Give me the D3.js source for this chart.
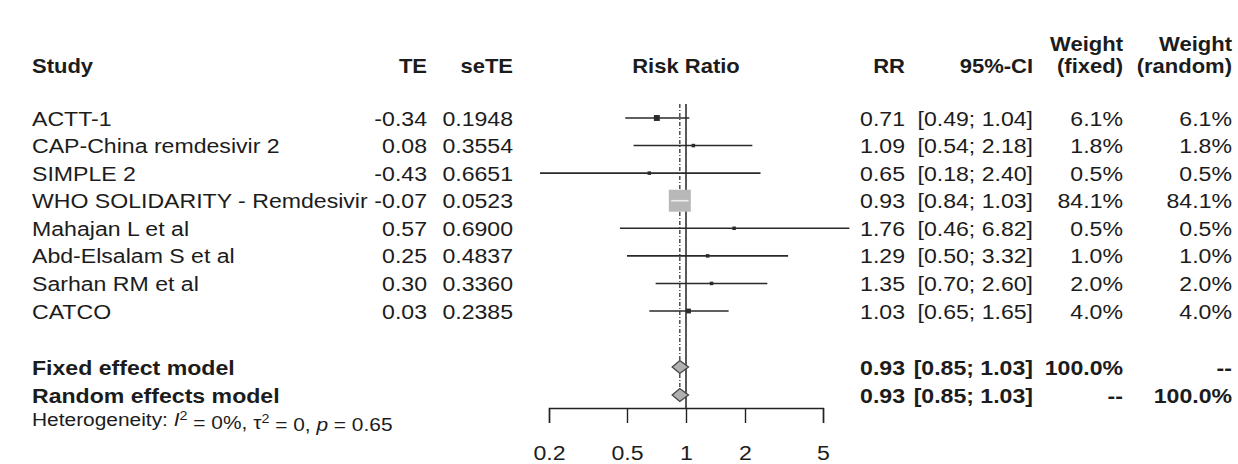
<!DOCTYPE html>
<html>
<head>
<meta charset="utf-8">
<script src="https://cdn.jsdelivr.net/npm/d3@7"></script>
<style>
  body { margin: 0; background: #fff; }
  svg { display: block; font-family: "Liberation Sans", Arial, sans-serif; }
  text { fill: #1c1c1c; }
  .bold { font-weight: bold; }
</style>
</head>
<body>
<svg id="chart" width="1238" height="464"></svg>
<script>
// study level data
const studies = ['ACTT-1', 'CAP-China remdesivir 2', 'SIMPLE 2', 'WHO SOLIDARITY - Remdesivir',
  'Mahajan L et al', 'Abd-Elsalam S et al', 'Sarhan RM et al', 'CATCO'];
const te    = ['-0.34', '0.08', '-0.43', '-0.07', '0.57', '0.25', '0.30', '0.03'];
const seTE  = ['0.1948', '0.3554', '0.6651', '0.0523', '0.6900', '0.4837', '0.3360', '0.2385'];
const rr    = [0.71, 1.09, 0.65, 0.93, 1.76, 1.29, 1.35, 1.03];
const lower = [0.49, 0.54, 0.18, 0.84, 0.46, 0.50, 0.70, 0.65];
const upper = [1.04, 2.18, 2.40, 1.03, 6.82, 3.32, 2.60, 1.65];
const weightFixed  = [6.1, 1.8, 0.5, 84.1, 0.5, 1.0, 2.0, 4.0];
const weightRandom = [6.1, 1.8, 0.5, 84.1, 0.5, 1.0, 2.0, 4.0];

// pooled estimates
const models = ['Fixed effect model', 'Random effects model'];
const pooledRR    = [0.93, 0.93];
const pooledLower = [0.85, 0.85];
const pooledUpper = [1.03, 1.03];
const pooledWFixed  = ['100.0%', '--'];
const pooledWRandom = ['--', '100.0%'];

const axisTicks = [0.2, 0.5, 1, 2, 5];

const svg = d3.select('#chart');
const fs = 21;
const sx = 1.1;   // the original figure is a bit stretched sideways

const x = d3.scaleLog().domain([0.2, 5]).range([549, 823]);
const yRow = d3.scaleLinear().domain([0, 7]).range([118, 311]);
const yModel = d3.scalePoint().domain(models).range([367, 395]);
const axisY = 408;

const col = { study: 32, te: 427, se: 513, rr: 905, ci: 1033, wf: 1123, wr: 1232 };
const fmt2 = d3.format('.2f');
const ciText = (lo, hi) => `[${fmt2(lo)}; ${fmt2(hi)}]`;

function txt(xp, yp, s, anchor, cls, size) {
  return svg.append('text')
    .attr('transform', `translate(${xp},${yp}) scale(${sx},1)`)
    .attr('dy', '0.36em')
    .attr('text-anchor', anchor || 'start')
    .attr('font-size', size || fs)
    .attr('class', cls || null)
    .text(s);
}

// header
txt(col.wf, 44, 'Weight', 'end', 'bold', 20);
txt(col.wr, 44, 'Weight', 'end', 'bold', 20);
txt(col.study, 66, 'Study', 'start', 'bold', 20);
txt(col.te, 66, 'TE', 'end', 'bold', 20);
txt(col.se, 66, 'seTE', 'end', 'bold', 20);
txt(x(1), 66, 'Risk Ratio', 'middle', 'bold', 20);
txt(col.rr, 66, 'RR', 'end', 'bold', 20);
txt(col.ci, 66, '95%-CI', 'end', 'bold', 20);
txt(col.wf, 66, '(fixed)', 'end', 'bold', 20);
txt(col.wr, 66, '(random)', 'end', 'bold', 20);

// study rows
studies.forEach((s, i) => {
  const yp = yRow(i);
  txt(col.study, yp, s);
  txt(col.te, yp, te[i], 'end');
  txt(col.se, yp, seTE[i], 'end');
  txt(col.rr, yp, fmt2(rr[i]), 'end');
  txt(col.ci, yp, ciText(lower[i], upper[i]), 'end');
  txt(col.wf, yp, weightFixed[i].toFixed(1) + '%', 'end');
  txt(col.wr, yp, weightRandom[i].toFixed(1) + '%', 'end');
});

models.forEach((m, i) => {
  const yp = yModel(m);
  txt(col.study, yp, m, 'start', 'bold');
  txt(col.rr, yp, fmt2(pooledRR[i]), 'end', 'bold');
  txt(col.ci, yp, ciText(pooledLower[i], pooledUpper[i]), 'end', 'bold');
  txt(col.wf, yp, pooledWFixed[i], 'end', 'bold');
  txt(col.wr, yp, pooledWRandom[i], 'end', 'bold');
});

// heterogeneity line
const het = txt(col.study, 419, '', 'start', null, 19);
het.append('tspan').text('Heterogeneity: ');
het.append('tspan').attr('font-style', 'italic').text('I');
het.append('tspan').attr('dy', '-0.45em').attr('font-size', 13).text('2');
het.append('tspan').attr('dy', '0.45em').text(' = 0%, \u03c4');
het.append('tspan').attr('dy', '-0.45em').attr('font-size', 13).text('2');
het.append('tspan').attr('dy', '0.45em').text(' = 0, ');
het.append('tspan').attr('font-style', 'italic').text('p');
het.append('tspan').text(' = 0.65');

// reference lines
const plot = svg.append('g');
plot.append('line')
  .attr('x1', x(1)).attr('x2', x(1)).attr('y1', 104).attr('y2', axisY)
  .attr('stroke', '#222').attr('stroke-width', 1.5);
plot.append('line')
  .attr('x1', x(pooledRR[0])).attr('x2', x(pooledRR[0])).attr('y1', 104).attr('y2', yModel(models[1]))
  .attr('stroke', '#333').attr('stroke-width', 1.3).attr('stroke-dasharray', '4,2,1,2');

// confidence intervals and squares
const size = d3.scaleSqrt().domain([0, 84.1]).range([0, 22]);
studies.forEach((s, i) => {
  const yp = yRow(i);
  const side = Math.max(3.5, size(weightFixed[i]));
  const inside = x(lower[i]) > x(rr[i]) - side / 2 && x(upper[i]) < x(rr[i]) + side / 2;
  plot.append('line')
    .attr('x1', x(lower[i])).attr('x2', x(upper[i])).attr('y1', yp).attr('y2', yp)
    .attr('stroke', '#2a2a2a').attr('stroke-width', 1.6);
  plot.append('rect')
    .attr('x', x(rr[i]) - side / 2).attr('y', yp - side / 2)
    .attr('width', side).attr('height', side)
    .attr('fill', side > 10 ? '#b8b8b8' : '#2a2a2a');
  if (inside) {
    plot.append('line')
      .attr('x1', x(lower[i])).attr('x2', x(upper[i])).attr('y1', yp).attr('y2', yp)
      .attr('stroke', '#eee').attr('stroke-width', 1.6);
  }
});

// diamonds
models.forEach((m, i) => {
  const yp = yModel(m), h = 6.5;
  const pts = [[x(pooledLower[i]), yp], [x(pooledRR[i]), yp - h], [x(pooledUpper[i]), yp], [x(pooledRR[i]), yp + h]];
  plot.append('polygon')
    .attr('points', pts.map(p => p.join(',')).join(' '))
    .attr('fill', '#b0b0b0').attr('stroke', '#444').attr('stroke-width', 1.3);
});

// x axis
const axis = svg.append('g')
  .attr('transform', `translate(0,${axisY})`)
  .call(d3.axisBottom(x).tickValues(axisTicks).tickFormat(d3.format('')).tickSize(15).tickPadding(22));
axis.select('.domain').attr('stroke', '#222').attr('stroke-width', 1.4);
axis.selectAll('.tick line').attr('stroke', '#222').attr('stroke-width', 1.4);
axis.selectAll('.tick text').attr('font-size', fs).attr('fill', '#1c1c1c')
  .attr('font-family', '"Liberation Sans", Arial, sans-serif')
  .attr('transform', `scale(${sx},1)`);
</script>
</body>
</html>
